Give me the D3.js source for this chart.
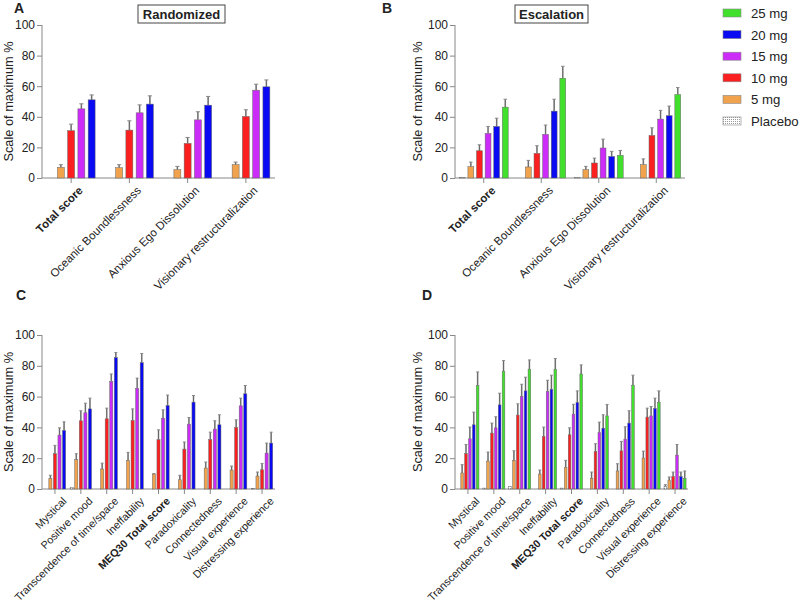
<!DOCTYPE html>
<html>
<head>
<meta charset="utf-8">
<script src="https://cdn.jsdelivr.net/npm/d3@7"></script>
<style>
body { margin: 0; background: #fff; }
svg text { font-family: "Liberation Sans", Arial, sans-serif; fill: #222; }
.axis path, .axis line { stroke: #888; }
.axis text { font-size: 12px; fill: #222; }
</style>
</head>
<body>
<svg id="chart" width="800" height="609"></svg>
<script>
// ---- data ----
var catsAB = ["Total score", "Oceanic Boundlessness", "Anxious Ego Dissolution", "Visionary restructuralization"];
var catsCD = ["Mystical", "Positive mood", "Transcendence of time/space", "Ineffability", "MEQ30 Total score",
              "Paradoxicality", "Connectedness", "Visual experience", "Distressing experience"];
var boldCats = ["Total score", "MEQ30 Total score"];

var dosesAC = ["Placebo", "5 mg", "10 mg", "15 mg", "20 mg"];
var dosesBD = ["Placebo", "5 mg", "10 mg", "15 mg", "20 mg", "25 mg"];
var legendDoses = ["25 mg", "20 mg", "15 mg", "10 mg", "5 mg", "Placebo"];

var doseColor = {
  "Placebo": "url(#dots)",
  "5 mg": "#f0a24c",
  "10 mg": "#fa2020",
  "15 mg": "#cc2cf7",
  "20 mg": "#0a0af2",
  "25 mg": "#40e02c"
};

// rows follow dose order, columns follow category order
var meanA = [
  [0, 0, 0, 0],
  [7.0, 6.7, 5.4, 8.7],
  [30.9, 31.3, 22.6, 40.2],
  [45.2, 42.6, 38.0, 57.4],
  [51.1, 48.3, 47.6, 59.6]
];
var semA = [
  [0, 0, 0, 0],
  [1.7, 2.0, 2.2, 1.7],
  [4.3, 6.1, 3.9, 4.4],
  [3.3, 5.2, 5.3, 3.9],
  [3.2, 5.4, 5.7, 4.5]
];

var meanB = [
  [0.3, 0, 0.5, 0],
  [7.4, 7.2, 5.4, 8.7],
  [17.8, 16.1, 9.8, 27.8],
  [29.1, 28.5, 19.6, 38.5],
  [33.7, 43.7, 14.1, 40.7],
  [46.3, 65.2, 14.8, 54.5]
];
var semB = [
  [0, 0, 0, 0],
  [3.0, 4.3, 2.2, 3.8],
  [3.9, 5.0, 3.2, 5.0],
  [4.6, 6.1, 5.8, 5.7],
  [5.4, 7.8, 3.3, 6.3],
  [5.2, 7.8, 3.2, 4.6]
];

var meanC = [
  [0, 1.1, 0, 0, 0, 0, 0, 0, 0.4],
  [6.7, 19.0, 13.0, 18.4, 9.7, 6.0, 13.6, 12.3, 8.4],
  [22.9, 44.3, 45.6, 44.5, 32.0, 25.9, 32.0, 40.0, 12.5],
  [35.0, 49.5, 69.8, 65.4, 46.0, 42.1, 38.9, 54.0, 23.3],
  [38.0, 52.0, 85.3, 82.0, 54.2, 56.4, 41.7, 61.8, 29.8]
];
var semC = [
  [0, 0, 0, 0, 0, 0, 0, 0, 0],
  [2.2, 3.9, 3.8, 5.4, 0.3, 2.9, 3.9, 2.6, 2.6],
  [5.4, 6.5, 6.9, 7.5, 6.4, 4.6, 4.9, 4.9, 4.1],
  [4.7, 6.2, 4.9, 6.6, 5.4, 4.3, 5.4, 5.0, 6.5],
  [5.6, 7.0, 3.3, 6.0, 6.8, 4.3, 6.5, 5.4, 7.1]
];

var meanD = [
  [0, 0.6, 1.7, 0, 0.6, 0, 0, 0, 1.7],
  [10.4, 18.1, 18.4, 9.7, 14.0, 6.9, 11.7, 20.1, 5.8],
  [22.9, 36.3, 48.0, 34.1, 35.2, 24.4, 24.8, 46.7, 8.2],
  [32.6, 39.7, 60.0, 63.3, 48.6, 36.7, 32.4, 47.5, 22.0],
  [41.7, 54.6, 63.7, 64.8, 56.2, 39.5, 42.8, 52.3, 8.0],
  [67.2, 76.5, 77.8, 77.8, 74.7, 47.5, 67.4, 56.2, 6.9]
];
var semD = [
  [0, 0, 0, 0, 0, 0, 0, 0, 1.1],
  [5.4, 5.9, 6.4, 2.6, 4.6, 4.1, 4.7, 4.5, 2.0],
  [6.0, 6.5, 7.3, 6.1, 4.5, 5.0, 6.1, 5.8, 2.8],
  [7.6, 7.2, 8.0, 7.3, 6.4, 6.7, 8.0, 6.1, 6.9],
  [8.2, 7.6, 8.9, 9.1, 7.5, 8.7, 8.0, 6.7, 3.0],
  [8.8, 6.9, 6.0, 6.9, 5.9, 7.4, 6.5, 7.5, 4.8]
];

var yTicks = [0, 20, 40, 60, 80, 100];

var svg = d3.select("#chart");

// dotted pattern for placebo
var defs = svg.append("defs");
var pat = defs.append("pattern").attr("id", "dots")
    .attr("width", 2).attr("height", 2).attr("patternUnits", "userSpaceOnUse");
pat.append("rect").attr("width", 2).attr("height", 2).attr("fill", "#fff");
pat.append("rect").attr("width", 1).attr("height", 1).attr("fill", "#999");

function panel(opt) {
  var g = svg.append("g");

  var x0 = d3.scaleBand()
      .domain(opt.cats)
      .range([opt.left, opt.right])
      .padding(0);

  var x1 = d3.scaleBand()
      .domain(opt.doses)
      .range([0, x0.bandwidth()])
      .paddingInner(0.32)
      .paddingOuter(0.5);

  var y = d3.scaleLinear().domain([0, 100]).range([opt.bottom, opt.top]);

  // y axis
  g.append("g")
      .attr("class", "axis")
      .attr("transform", "translate(" + opt.left + ",0)")
      .call(d3.axisLeft(y).tickValues(yTicks).tickSize(5).tickPadding(2))
      .call(function(a) { a.select(".domain").attr("d", "M0," + opt.bottom + "V" + opt.top); });

  // x axis
  var xa = g.append("g")
      .attr("class", "axis")
      .attr("transform", "translate(0," + opt.bottom + ")")
      .call(d3.axisBottom(x0).tickSize(5).tickSizeOuter(0));
  xa.select(".domain").attr("d", "M" + opt.left + ",0H" + opt.right);
  xa.selectAll("text")
      .style("text-anchor", "end")
      .style("font-size", opt.xFont + "px")
      .style("font-weight", function(d) { return boldCats.indexOf(d) >= 0 ? "bold" : "normal"; })
      .attr("dx", "-0.1em")
      .attr("dy", "0.45em")
      .attr("transform", "translate(4,3) rotate(-45)");

  // y label
  g.append("text")
      .attr("transform", "translate(" + (opt.left - opt.labelOff) + "," + ((opt.top + opt.bottom) / 2) + ") rotate(-90)")
      .attr("text-anchor", "middle")
      .style("font-size", "12.8px")
      .text("Scale of maximum %");

  // bars
  var rows = [];
  opt.doses.forEach(function(dose, di) {
    opt.cats.forEach(function(cat, ci) {
      rows.push({ dose: dose, cat: cat, v: opt.mean[di][ci], e: opt.sem[di][ci] });
    });
  });

  var bw = x1.bandwidth();
  var bars = g.append("g").selectAll("g").data(rows).enter().append("g");

  bars.filter(function(d) { return d.e > 0; }).each(function(d) {
    var cx = x0(d.cat) + x1(d.dose) + bw / 2;
    var sel = d3.select(this);
    sel.append("line")
        .attr("x1", cx).attr("x2", cx)
        .attr("y1", y(d.v)).attr("y2", y(d.v + d.e))
        .attr("stroke", "#9a9a9a").attr("stroke-width", 1.6);
    sel.append("line")
        .attr("x1", cx).attr("x2", cx)
        .attr("y1", y(d.v)).attr("y2", y(d.v + d.e))
        .attr("stroke", "#444").attr("stroke-width", 0.6);
    sel.append("line")
        .attr("x1", cx - Math.max(1.5, bw * 0.3)).attr("x2", cx + Math.max(1.5, bw * 0.3))
        .attr("y1", y(d.v + d.e)).attr("y2", y(d.v + d.e))
        .attr("stroke", "#888").attr("stroke-width", 1);
  });

  bars.filter(function(d) { return d.v > 0; })
    .append("rect")
      .attr("x", function(d) { return x0(d.cat) + x1(d.dose); })
      .attr("y", function(d) { return y(d.v); })
      .attr("width", bw)
      .attr("height", function(d) { return y(0) - y(d.v); })
      .attr("fill", function(d) { return doseColor[d.dose]; })
      .attr("stroke", "#666")
      .attr("stroke-width", 0.5);

  // panel letter
  svg.append("text")
      .attr("x", opt.letterX).attr("y", opt.letterY)
      .style("font-size", "14px").style("font-weight", "bold")
      .text(opt.letter);

  if (opt.title) {
    var tg = svg.append("g");
    tg.append("rect")
        .attr("x", opt.title.x).attr("y", 5)
        .attr("width", opt.title.w).attr("height", 18)
        .attr("fill", "#fff").attr("stroke", "#444").attr("stroke-width", 1);
    tg.append("text")
        .attr("x", opt.title.x + opt.title.w / 2).attr("y", 19)
        .attr("text-anchor", "middle")
        .style("font-size", "13px").style("font-weight", "bold")
        .text(opt.title.text);
  }
}

panel({ cats: catsAB, doses: dosesAC, mean: meanA, sem: semA, xFont: 11.5,
        left: 42, right: 275, top: 25, bottom: 178, labelOff: 29,
        letter: "A", letterX: 14, letterY: 13,
        title: { x: 138, w: 87, text: "Randomized" } });

panel({ cats: catsAB, doses: dosesBD, mean: meanB, sem: semB, xFont: 11.5,
        left: 455, right: 685, top: 25, bottom: 178, labelOff: 33,
        letter: "B", letterX: 382, letterY: 13,
        title: { x: 515, w: 73, text: "Escalation" } });

panel({ cats: catsCD, doses: dosesAC, mean: meanC, sem: semC, xFont: 10.8,
        left: 42, right: 275, top: 335, bottom: 489, labelOff: 29,
        letter: "C", letterX: 16, letterY: 300 });

panel({ cats: catsCD, doses: dosesBD, mean: meanD, sem: semD, xFont: 10.8,
        left: 455, right: 688, top: 335, bottom: 489, labelOff: 33,
        letter: "D", letterX: 422, letterY: 300 });

// legend
var lg = svg.append("g").attr("transform", "translate(723,0)");
var li = lg.selectAll("g").data(legendDoses).enter().append("g")
    .attr("transform", function(d, i) { return "translate(0," + (13 + i * 21.6) + ")"; });
li.append("rect")
    .attr("x", 0).attr("y", -4).attr("width", 18).attr("height", 8)
    .attr("fill", function(d) { return doseColor[d]; })
    .attr("stroke", "#888").attr("stroke-width", 0.6);
li.append("text")
    .attr("x", 28).attr("y", 5)
    .style("font-size", "13.2px")
    .text(function(d) { return d; });
</script>
</body>
</html>
